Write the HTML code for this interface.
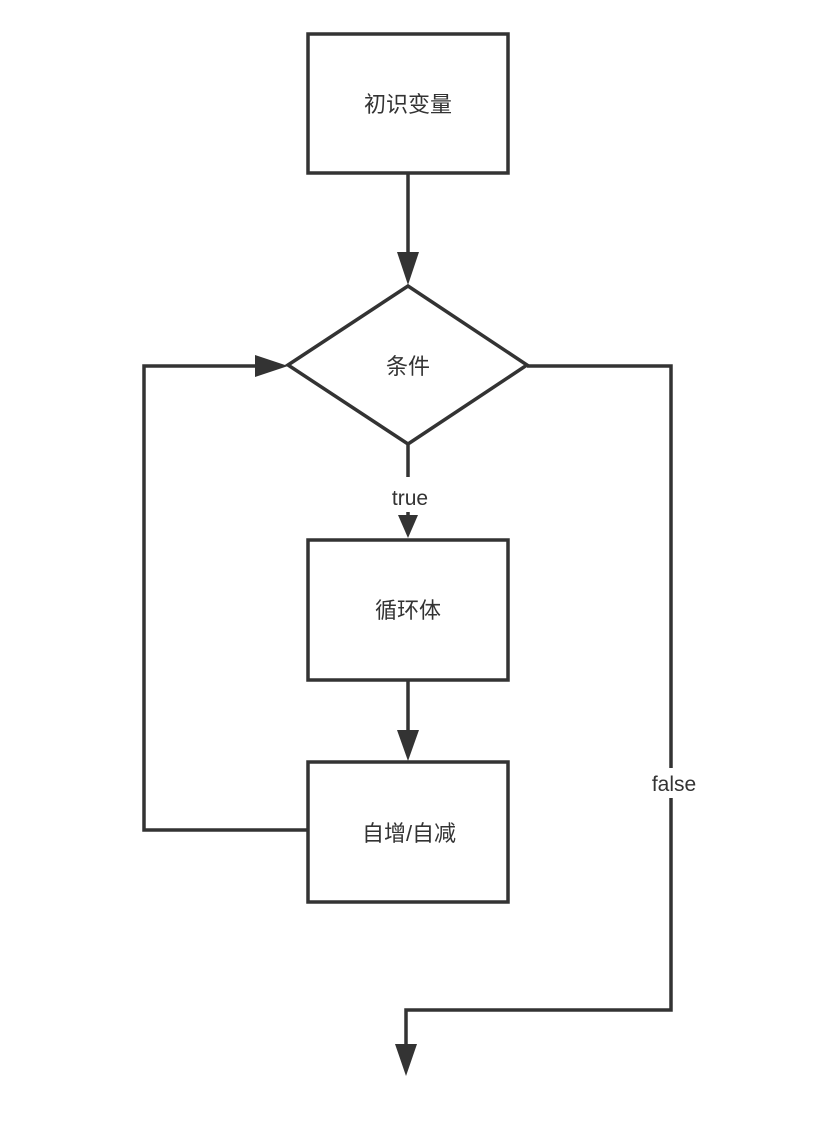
<!DOCTYPE html>
<html><head><meta charset="utf-8"><style>
html,body{margin:0;padding:0;background:#fff;}
svg{display:block}
text{font-family:"Liberation Sans","Noto Sans CJK SC",sans-serif;fill:#333;}
</style></head><body>
<svg width="840" height="1148" viewBox="0 0 840 1148" xmlns="http://www.w3.org/2000/svg">
<g stroke="#333" stroke-width="3.5" fill="none">
<rect x="308" y="34" width="200" height="139" fill="#fff"/>
<line x1="408" y1="173" x2="408" y2="255"/>
<polygon points="288,365 408,286 527,365 408,444" fill="#fff"/>
<line x1="408" y1="445" x2="408" y2="477"/>
<line x1="408" y1="512" x2="408" y2="518"/>
<rect x="308" y="540" width="200" height="140" fill="#fff"/>
<line x1="408" y1="680" x2="408" y2="740"/>
<rect x="308" y="762" width="200" height="140" fill="#fff"/>
<polyline points="308,830 144,830 144,366 258,366"/>
<polyline points="527,366 671,366 671,1010 406,1010 406,1050"/>
</g>
<g fill="#333">
<polygon points="397,252 419,252 408,285"/>
<polygon points="398,515 418,515 408,538"/>
<polygon points="397,730 419,730 408,761"/>
<polygon points="255,355 255,377 288,366"/>
<polygon points="395,1044 417,1044 406,1076"/>
</g>
<rect x="644" y="768" width="60" height="30" fill="#fff"/>
<text x="408" y="112" font-size="22" text-anchor="middle">初识变量</text>
<text x="408" y="374" font-size="22" text-anchor="middle">条件</text>
<text x="410" y="505" font-size="21" text-anchor="middle">true</text>
<text x="408" y="618" font-size="22" text-anchor="middle">循环体</text>
<text x="409" y="841" font-size="22" text-anchor="middle">自增/自减</text>
<text x="674" y="791" font-size="21" text-anchor="middle">false</text>
</svg>
</body></html>
